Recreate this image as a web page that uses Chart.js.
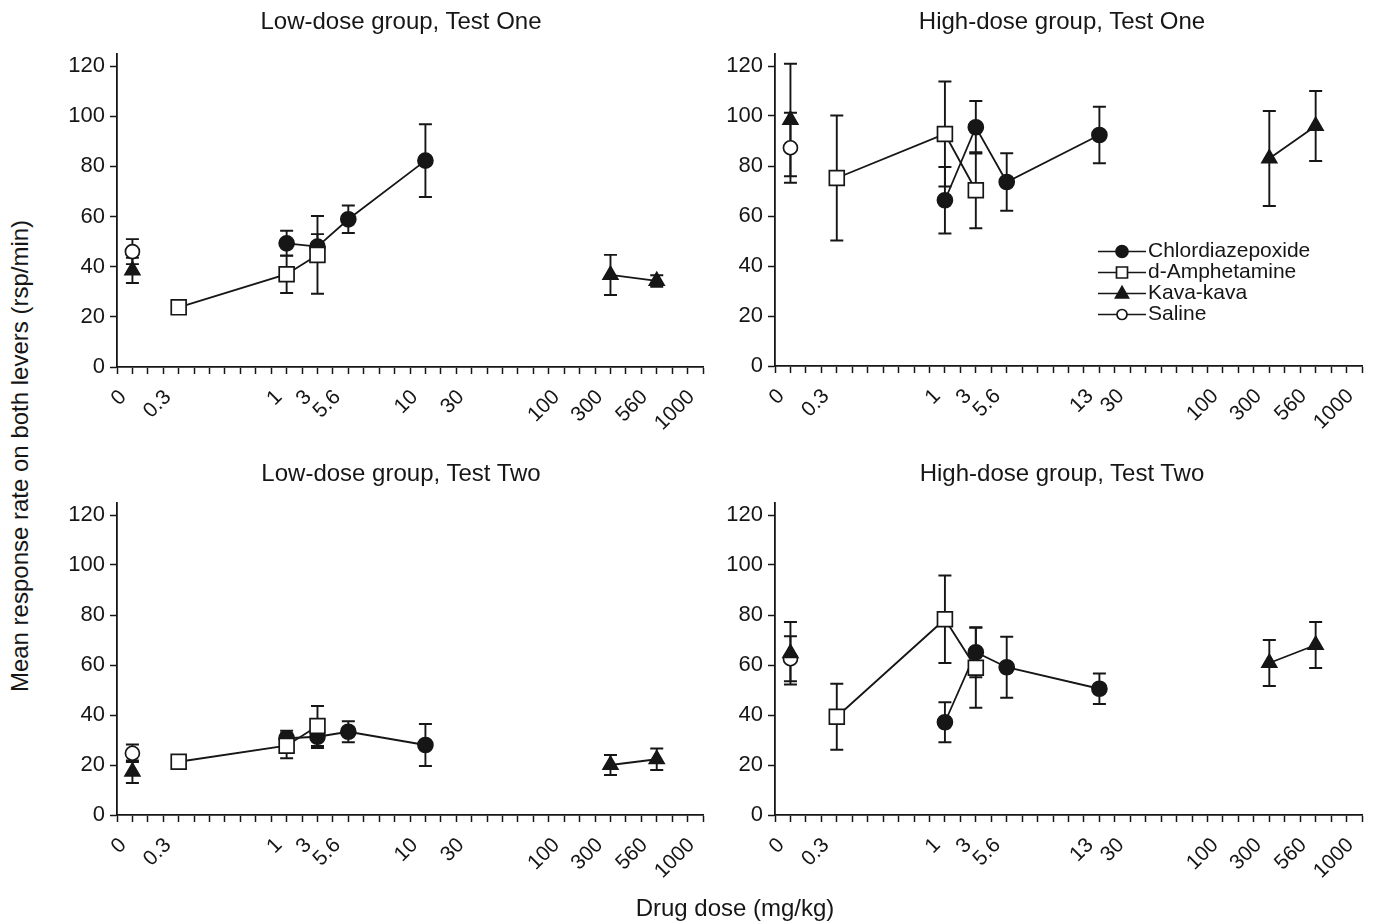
<!DOCTYPE html>
<html>
<head>
<meta charset="utf-8">
<script src="https://cdn.jsdelivr.net/npm/chart.js"></script>
<style>
  body { margin: 0; background: #fff; }
  #page { position: relative; width: 1376px; height: 924px; overflow: hidden;
          font-family: "Liberation Sans", Arial, Helvetica, sans-serif; color: #161616; }
  canvas { position: absolute; }
  .txt { position: absolute; font-size: 24px; white-space: nowrap; transform: translate(-50%, -50%); }
  #yTitle { left: 20px; top: 456px; transform: translate(-50%, -50%) rotate(-90deg); }
  #xTitle { left: 735px; top: 908px; }
</style>
</head>
<body>
<div id="page">
  <canvas id="lowOne" width="670" height="450" style="left:50px;top:0px"></canvas>
  <canvas id="highOne" width="668" height="449" style="left:708px;top:0px"></canvas>
  <canvas id="lowTwo" width="670" height="448" style="left:50px;top:450px"></canvas>
  <canvas id="highTwo" width="668" height="448" style="left:708px;top:450px"></canvas>
  <div class="txt" style="left:401px;top:21px">Low-dose group, Test One</div>
  <div class="txt" style="left:1062px;top:21px">High-dose group, Test One</div>
  <div class="txt" style="left:401px;top:473px">Low-dose group, Test Two</div>
  <div class="txt" style="left:1062px;top:473px">High-dose group, Test Two</div>
  <div class="txt" id="yTitle">Mean response rate on both levers (rsp/min)</div>
  <div class="txt" id="xTitle">Drug dose (mg/kg)</div>
</div>
<script>
// dose axis: 38 equal slots, doses sit on fixed slots (not a real log scale)
const slotCount = 38;
const chlorSlotsLow = [11, 13, 15, 20];   // 1, 3, 5.6, 10 mg/kg
const chlorSlotsHigh = [11, 13, 15, 21];  // 1, 3, 5.6, 13 mg/kg
const amphSlots = [4, 11, 13];            // 0.3, 1, 3 mg/kg
const kavaSlots = [1, 32, 35];            // 0, 300, 560 mg/kg
const salineSlots = [1];                  // 0

const tickLabelsLow = ["0", "0.3", "1", "3", "5.6", "10", "30", "100", "300", "560", "1000"];
const tickLabelsHigh = ["0", "0.3", "1", "3", "5.6", "13", "30", "100", "300", "560", "1000"];
const tickSlotsLow = [0.4, 3.3, 10.5, 12.4, 14.3, 19.3, 22.3, 28.5, 31.3, 34.2, 37.25];
const tickSlotsHigh = [0.4, 3.3, 10.5, 12.5, 14.4, 20.4, 22.4, 28.5, 31.3, 34.2, 37.25];
const yTicks = [0, 20, 40, 60, 80, 100, 120];

// Low-dose group, Test One
const lowOneChlor = [49.3, 48.0, 58.9, 82.3];
const lowOneChlorErr = [5, 5, 5.5, 14.5];
const lowOneAmph = [23.8, 37.0, 44.7];
const lowOneAmphErr = [1, 7.5, 15.5];
const lowOneKava = [38.5, 36.7, 34.3];
const lowOneKavaErr = [5, 8, 2.3];
const lowOneSaline = [46];
const lowOneSalineErr = [5];

// High-dose group, Test One
const highOneChlor = [66.3, 95.5, 73.6, 92.4];
const highOneChlorErr = [13.3, 10.5, 11.5, 11.3];
const highOneAmph = [75.2, 92.8, 70.3];
const highOneAmphErr = [25, 21, 15.2];
const highOneKava = [98.4, 83, 96];
const highOneKavaErr = [22.5, 19, 14];
const highOneSaline = [87.3];
const highOneSalineErr = [14];

// Low-dose group, Test Two
const lowTwoChlor = [30.7, 31.3, 33.3, 28];
const lowTwoChlorErr = [3, 4.5, 4.2, 8.4];
const lowTwoAmph = [21.3, 27.7, 35.6];
const lowTwoAmphErr = [1, 5, 8];
const lowTwoKava = [17.3, 20, 22.3];
const lowTwoKavaErr = [4.5, 4, 4.3];
const lowTwoSaline = [24.7];
const lowTwoSalineErr = [3.5];

// High-dose group, Test Two
const highTwoChlor = [37.1, 65.1, 59.1, 50.5];
const highTwoChlorErr = [8, 10, 12.2, 6.1];
const highTwoAmph = [39.3, 78.3, 58.9];
const highTwoAmphErr = [13.2, 17.5, 16];
const highTwoKava = [64.7, 60.8, 68];
const highTwoKavaErr = [12.5, 9.2, 9.2];
const highTwoSaline = [62.5];
const highTwoSalineErr = [9];

const INK = "#161616";
const FONT = "'Liberation Sans', Arial, Helvetica, sans-serif";

function pts(xs, ys) {
  return xs.map((x, i) => ({ x: x, y: ys[i] }));
}

// error bars, drawn under the markers
const errorBars = {
  id: "errorBars",
  beforeDatasetsDraw(chart) {
    const ctx = chart.ctx;
    const xs = chart.scales.x, ys = chart.scales.y;
    ctx.save();
    ctx.strokeStyle = INK;
    ctx.lineWidth = 1.9;
    chart.data.datasets.forEach(ds => {
      ds.data.forEach((p, i) => {
        const e = ds.errors[i];
        if (!e) return;
        const px = xs.getPixelForValue(p.x);
        const top = ys.getPixelForValue(p.y + e);
        const bot = ys.getPixelForValue(p.y - e);
        ctx.beginPath();
        ctx.moveTo(px, top); ctx.lineTo(px, bot);
        ctx.moveTo(px - 6.5, top); ctx.lineTo(px + 6.5, top);
        ctx.moveTo(px - 6.5, bot); ctx.lineTo(px + 6.5, bot);
        ctx.stroke();
      });
    });
    ctx.restore();
  }
};

const legendNames = ["Chlordiazepoxide", "d-Amphetamine", "Kava-kava", "Saline"];

function marker(ctx, kind, x, y) {
  ctx.beginPath();
  if (kind === 0 || kind === 3) {
    ctx.arc(x, y, kind === 0 ? 6 : 5, 0, Math.PI * 2);
    ctx.fillStyle = kind === 0 ? INK : "#fff";
    ctx.fill(); ctx.stroke();
  } else if (kind === 1) {
    ctx.rect(x - 5.5, y - 5.5, 11, 11);
    ctx.fillStyle = "#fff";
    ctx.fill(); ctx.stroke();
  } else {
    ctx.moveTo(x, y - 7); ctx.lineTo(x + 6.5, y + 4.5); ctx.lineTo(x - 6.5, y + 4.5);
    ctx.closePath();
    ctx.fillStyle = INK;
    ctx.fill(); ctx.stroke();
  }
}

const insideLegend = {
  id: "insideLegend",
  afterDraw(chart) {
    const ctx = chart.ctx, area = chart.chartArea;
    const x0 = area.left + 323, y0 = area.top + 198;
    ctx.save();
    ctx.strokeStyle = INK;
    ctx.lineWidth = 1.7;
    ctx.font = "21px " + FONT;
    ctx.textBaseline = "middle";
    legendNames.forEach((name, i) => {
      const y = y0 + i * 21;
      ctx.beginPath();
      ctx.moveTo(x0, y); ctx.lineTo(x0 + 48, y);
      ctx.stroke();
      marker(ctx, i, x0 + 24, y);
      ctx.fillStyle = INK;
      ctx.fillText(name, x0 + 50, y);
    });
    ctx.restore();
  }
};

function makeChart(id, chlorSlots, values, tickSlots, tickLabels, pad, legend) {
  const datasets = [
    {
      label: "d-Amphetamine",
      data: pts(amphSlots, values.amph),
      errors: values.amphErr,
      pointStyle: "rect", pointRadius: 10.5, pointBackgroundColor: "#fff",
      order: 0
    },
    {
      label: "Chlordiazepoxide",
      data: pts(chlorSlots, values.chlor),
      errors: values.chlorErr,
      pointStyle: "circle", pointRadius: 7.5, pointBackgroundColor: INK,
      order: 1
    },
    {
      label: "Kava-kava",
      data: pts(kavaSlots, values.kava),
      errors: values.kavaErr,
      pointStyle: "triangle", pointRadius: 8.5, pointBackgroundColor: INK,
      segment: { borderColor: ctx => ctx.p0DataIndex === 0 ? "rgba(0,0,0,0)" : INK },
      order: 2
    },
    {
      label: "Saline",
      data: pts(salineSlots, values.saline),
      errors: values.salineErr,
      pointStyle: "circle", pointRadius: 7, pointBackgroundColor: "#fff",
      showLine: false,
      order: 3
    }
  ];
  datasets.forEach(ds => {
    ds.borderColor = INK;
    ds.borderWidth = 1.8;
    ds.pointBorderColor = INK;
    ds.pointBorderWidth = 1.7;
    ds.fill = false;
    ds.tension = 0;
  });

  return new Chart(document.getElementById(id), {
    type: "line",
    data: { datasets },
    plugins: legend ? [errorBars, insideLegend] : [errorBars],
    options: {
      responsive: false,
      animation: false,
      devicePixelRatio: 1,
      layout: { padding: { left: 0, right: pad.right, top: pad.top, bottom: 0 } },
      scales: {
        x: {
          type: "linear",
          min: 0,
          max: slotCount,
          afterBuildTicks(scale) {
            const marks = [];
            for (let s = 0; s <= slotCount; s++) marks.push({ value: s });
            tickSlots.forEach(v => marks.push({ value: v }));
            marks.sort((a, b) => a.value - b.value);
            scale.ticks = marks;
          },
          afterFit(scale) {
            scale.height = pad.xHeight;
            scale.paddingLeft = 0;
            scale.paddingRight = 0;
          },
          grid: {
            drawOnChartArea: false,
            tickLength: 7,
            tickWidth: 1.5,
            tickColor: ctx => (ctx.tick && tickSlots.includes(ctx.tick.value)) ? "rgba(0,0,0,0)" : INK
          },
          border: { color: INK, width: 1.8 },
          ticks: {
            autoSkip: false,
            minRotation: 45,
            maxRotation: 45,
            padding: 11,
            color: INK,
            font: { family: FONT, size: 21 },
            callback(value) {
              const i = tickSlots.indexOf(value);
              return i < 0 ? "" : tickLabels[i];
            }
          }
        },
        y: {
          min: 0,
          max: 125,
          afterBuildTicks(scale) {
            scale.ticks = yTicks.map(v => ({ value: v }));
          },
          afterFit(scale) {
            scale.width = 67;
            scale.paddingTop = 0;
            scale.paddingBottom = 0;
          },
          grid: { drawOnChartArea: false, tickLength: 7, tickWidth: 1.5, tickColor: INK },
          border: { color: INK, width: 1.8 },
          ticks: { padding: 5, color: INK, font: { family: FONT, size: 22 } }
        }
      },
      plugins: {
        legend: { display: false },
        tooltip: { enabled: false },
        title: { display: false }
      }
    }
  });
}

makeChart("lowOne", chlorSlotsLow,
  { chlor: lowOneChlor, chlorErr: lowOneChlorErr, amph: lowOneAmph, amphErr: lowOneAmphErr,
    kava: lowOneKava, kavaErr: lowOneKavaErr, saline: lowOneSaline, salineErr: lowOneSalineErr },
  tickSlotsLow, tickLabelsLow, { right: 17, top: 53.5, xHeight: 83 }, false);

makeChart("highOne", chlorSlotsHigh,
  { chlor: highOneChlor, chlorErr: highOneChlorErr, amph: highOneAmph, amphErr: highOneAmphErr,
    kava: highOneKava, kavaErr: highOneKavaErr, saline: highOneSaline, salineErr: highOneSalineErr },
  tickSlotsHigh, tickLabelsHigh, { right: 14, top: 53.5, xHeight: 83 }, true);

makeChart("lowTwo", chlorSlotsLow,
  { chlor: lowTwoChlor, chlorErr: lowTwoChlorErr, amph: lowTwoAmph, amphErr: lowTwoAmphErr,
    kava: lowTwoKava, kavaErr: lowTwoKavaErr, saline: lowTwoSaline, salineErr: lowTwoSalineErr },
  tickSlotsLow, tickLabelsLow, { right: 17, top: 52.5, xHeight: 83 }, false);

makeChart("highTwo", chlorSlotsHigh,
  { chlor: highTwoChlor, chlorErr: highTwoChlorErr, amph: highTwoAmph, amphErr: highTwoAmphErr,
    kava: highTwoKava, kavaErr: highTwoKavaErr, saline: highTwoSaline, salineErr: highTwoSalineErr },
  tickSlotsHigh, tickLabelsHigh, { right: 14, top: 52.5, xHeight: 83 }, false);
</script>
</body>
</html>
